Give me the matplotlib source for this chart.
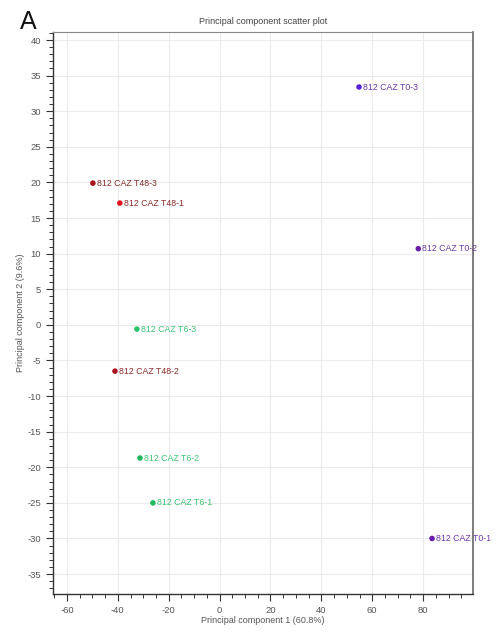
import matplotlib
matplotlib.use("Agg")
import matplotlib.pyplot as plt
from matplotlib.ticker import MultipleLocator

plt.rcParams['font.family'] = ['Liberation Sans', 'DejaVu Sans']
plt.rcParams['axes.unicode_minus'] = False

labels = ["812 CAZ T0-3", "812 CAZ T0-2", "812 CAZ T0-1",
          "812 CAZ T48-3", "812 CAZ T48-1", "812 CAZ T48-2",
          "812 CAZ T6-3", "812 CAZ T6-2", "812 CAZ T6-1"]
pc1 = [54.8, 78.1, 83.5, -49.8, -39.2, -41.1, -32.5, -31.3, -26.2]
pc2 = [33.4, 10.7, -30.0, 19.9, 17.1, -6.5, -0.6, -18.7, -25.0]
point_colors = ["#5a22d8", "#6a1ca8", "#6a1ca8",
                "#a8141c", "#e0141e", "#a8141c",
                "#2ec46a", "#22b85e", "#22b85e"]
text_colors = ["#6a3aa8", "#6a3aa8", "#6a3aa8",
               "#8a2a2a", "#8a2a2a", "#8a2a2a",
               "#3cc476", "#3cc476", "#3cc476"]

fig = plt.figure(figsize=(5.04, 6.32), dpi=100)
ax = fig.add_axes([0.105, 0.0601, 0.8335, 0.889])

ax.set_xlim(-65.5, 99.6)
ax.set_ylim(-37.8, 41.1)

ax.xaxis.set_major_locator(MultipleLocator(20))
ax.xaxis.set_minor_locator(MultipleLocator(5))
ax.yaxis.set_major_locator(MultipleLocator(5))
ax.yaxis.set_minor_locator(MultipleLocator(1))
ax.grid(True, which='major', color='#ebebeb', linewidth=0.8)
ax.set_axisbelow(True)

ax.tick_params(axis='both', which='major', direction='out', length=5, width=0.8,
               labelsize=6.8, labelcolor='#555555', color='#333333')
ax.tick_params(axis='both', which='minor', direction='out', length=3, width=0.7,
               color='#333333')

for s in ['left', 'bottom']:
    ax.spines[s].set_color('#333333')
    ax.spines[s].set_linewidth(1.0)
ax.spines['top'].set_color('#888888')
ax.spines['right'].set_color('#666666')
ax.spines['right'].set_linewidth(1.2)

ax.scatter(pc1, pc2, c=point_colors, s=16, zorder=3, edgecolors='none')
for x, y, t, c in zip(pc1, pc2, labels, text_colors):
    ax.annotate(t, (x, y), xytext=(3, 0), textcoords='offset points',
                fontsize=6.3, color=c, va='center', ha='left')

ax.set_xlabel("Principal component 1 (60.8%)", fontsize=6.5, color='#555555', labelpad=1)
ax.set_ylabel("Principal component 2 (9.6%)", fontsize=6.5, color='#555555', labelpad=2)
ax.set_title("Principal component scatter plot", fontsize=6.5, color='#444444', pad=6)

fig.text(0.04, 0.965, "A", fontsize=18, color='#111111', va='center', ha='left')

fig.savefig("out.png", dpi=100)
